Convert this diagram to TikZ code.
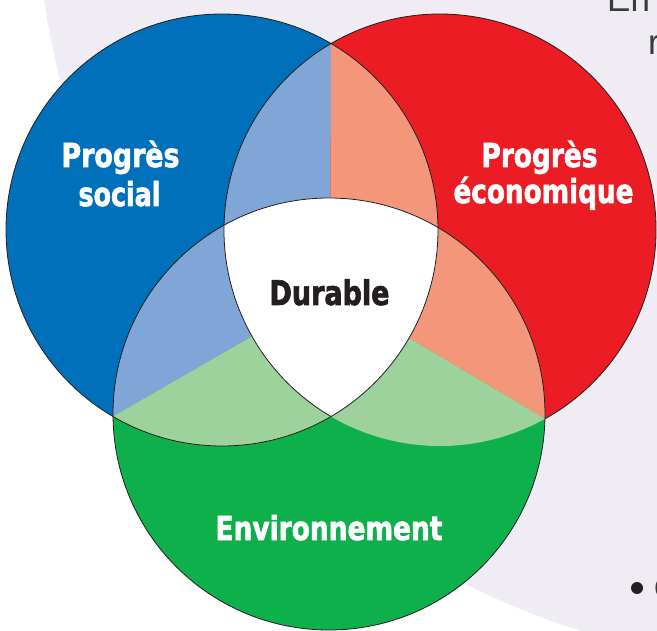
\documentclass[tikz,border=0pt]{standalone}
\usepackage{fontspec}
\usepackage{graphicx}
\usetikzlibrary{calc}
\newfontfamily\heavyfont{DejaVu Sans Condensed Bold}[FakeBold=2]
\newfontfamily\grayfont{Liberation Sans}
\definecolor{lav}{HTML}{F0ECF3}
\definecolor{cblue}{HTML}{0070BA}
\definecolor{cred}{HTML}{EC1C24}
\definecolor{cgreen}{HTML}{0DB04B}
\definecolor{lblue}{HTML}{7FA6D7}
\definecolor{lred}{HTML}{F4967A}
\definecolor{lgreen}{HTML}{9ED29D}
\definecolor{ink}{HTML}{231F20}
\definecolor{grayink}{HTML}{3A3A3A}
\begin{document}
\begin{tikzpicture}[x=1pt,y=-1pt,
  ring/.style={draw=ink,line width=0.8pt},
  lbl/.style={inner sep=0pt,anchor=base,text=white,font=\heavyfont\fontsize{33}{33}\selectfont},
  side/.style={inner sep=0pt,anchor=base west,text=grayink,font=\grayfont\fontsize{35}{35}\selectfont}
]
\useasboundingbox (0,0) rectangle (657,631);
\fill[white] (0,0) rectangle (657,631);
\fill[lav] (816,-113) circle[radius=780pt];
\def\rad{216pt}
\coordinate (cb) at (222,230);
\coordinate (cr) at (440,230);
\coordinate (cg) at (329,414);
\coordinate (c0) at (330.33,291.33);
\coordinate (T) at (331,43.5);
\coordinate (L) at (113,416.5);
\coordinate (R) at (545,418.8);
\coordinate (fT) at ($(c0)!6!(T)$);
\coordinate (fL) at ($(c0)!6!(L)$);
\coordinate (fR) at ($(c0)!6!(R)$);
% main discs
\fill[cblue] (cb) circle[radius=\rad];
\fill[cred] (cr) circle[radius=\rad];
\fill[cgreen] (cg) circle[radius=\rad];
% blue & red lens
\begin{scope}
  \clip (cb) circle[radius=\rad];
  \clip (cr) circle[radius=\rad];
  \fill[lblue] (c0) -- (fT) -- (-2000,-2000) -- (fL) -- cycle;
  \fill[lred] (c0) -- (fT) -- (2500,-2000) -- (fR) -- cycle;
\end{scope}
% blue & green lens
\begin{scope}
  \clip (cb) circle[radius=\rad];
  \clip (cg) circle[radius=\rad];
  \fill[lblue] (c0) -- (fT) -- (-2000,-2000) -- (fL) -- cycle;
  \fill[lgreen] (c0) -- (fL) -- (-2000,2500) -- (2500,2500) -- (fR) -- cycle;
\end{scope}
% red & green lens
\begin{scope}
  \clip (cr) circle[radius=\rad];
  \clip (cg) circle[radius=\rad];
  \fill[lred] (c0) -- (fT) -- (2500,-2000) -- (fR) -- cycle;
  \fill[lgreen] (c0) -- (fL) -- (-2000,2500) -- (2500,2500) -- (fR) -- cycle;
\end{scope}
% centre
\begin{scope}
  \clip (cb) circle[radius=\rad];
  \clip (cr) circle[radius=\rad];
  \fill[white] (cg) circle[radius=\rad];
\end{scope}
% outlines
\draw[ring] (cb) circle[radius=\rad];
\draw[ring] (cg) circle[radius=\rad];
\draw[ring] (R) arc[start angle=-60.92, end angle=239.69, radius=\rad];
% labels
\node[lbl] (ps1) at (120.5,167) {\resizebox{118pt}{\height}{Progrès}};
\node[lbl] (ps2) at (119.5,206) {\resizebox{82pt}{\height}{social}};
\node[lbl] (pe1) at (539.5,167) {\resizebox{116pt}{\height}{Progrès}};
\node[lbl] (pe2) at (543.5,203) {\resizebox{180pt}{\height}{économique}};
\node[lbl,text=ink,font=\heavyfont\fontsize{34}{34}\selectfont] (du) at (329.5,305) {\resizebox{120pt}{\height}{Durable}};
\node[lbl] (env) at (329,540) {\resizebox{227pt}{\height}{Environnement}};
% side text
\node[side] (t1) at (607,12) {En};
\node[side] (t2) at (648,55) {r};
\node[circle,fill=ink,inner sep=0pt,minimum size=12pt] (bul) at (637,588) {};
\node[side] (t3) at (654,597) {c};
\end{tikzpicture}
\end{document}
